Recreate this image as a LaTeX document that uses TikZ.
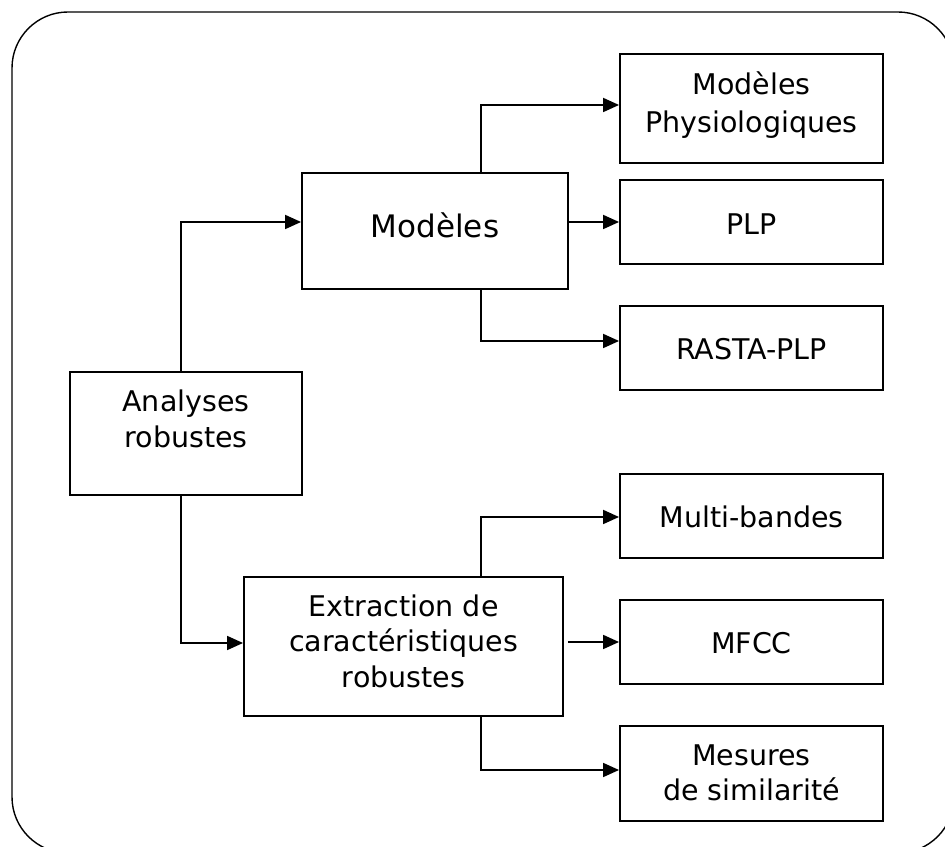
\documentclass[tikz,border=0pt]{standalone}
\usepackage{fontspec}
\setmainfont{DejaVu Sans}
\usetikzlibrary{arrows.meta}

\begin{document}
\begin{tikzpicture}[x=1pt,y=1pt,
  box/.style={draw, line width=1.9pt, inner sep=0pt, minimum height=84pt, minimum width=263pt},
  txt/.style={align=center, inner sep=0pt, font=\fontsize{28.5}{35.5}\selectfont},
  arr/.style={line width=1.8pt, -{Triangle[length=16pt,width=14pt]}}]
  \useasboundingbox (0,0) rectangle (945,846);
  \clip (0,0) rectangle (945,846);

  % frame
  \draw[line width=1.4pt, rounded corners=56pt] (12,-7) rectangle (954,834);

  % left column
  \node[box, minimum width=232pt, minimum height=123pt] (ana) at (186,412.5) {};
  \node[txt] (anat) at (186,427) {Analyses\\robustes};

  % middle column
  \node[box, minimum width=266pt, minimum height=116pt] (mod) at (435,615) {};
  \node[txt, font=\fontsize{31}{37}\selectfont] (modt) at (435,621) {Modèles};

  \node[box, minimum width=319pt, minimum height=139pt] (ext) at (403.5,199.5) {};
  \node[txt] (extt) at (403.5,205) {Extraction de\\caractéristiques\\robustes};

  % right column
  \node[box, minimum height=109pt] (mp) at (751.5,737.5) {};
  \node[txt, font=\fontsize{28.5}{38}\selectfont] (mpt) at (751.5,740.5) {Modèles\\Physiologiques};
  \node[box] (plp) at (751.5,624) {};
  \node[txt] (plpt) at (751.5,622) {PLP};
  \node[box] (rasta) at (751.5,498) {};
  \node[txt] (rastat) at (751.5,497) {RASTA-PLP};

  \node[box] (multi) at (751.5,330) {};
  \node[txt] (multit) at (751.5,329) {Multi-bandes};
  \node[box] (mfcc) at (751.5,204) {};
  \node[txt] (mfcct) at (751.5,203) {MFCC};
  \node[box, minimum height=95pt] (mes) at (751.5,72.5) {};
  \node[txt] (mest) at (751.5,73) {Mesures\\de similarité};

  % connectors
  \draw[arr] ([xshift=-5pt]ana.north) |- ([yshift=9pt]mod.west);
  \draw[arr] ([xshift=-5pt]ana.south) |- ([yshift=3.5pt]ext.west);

  \draw[arr] ([xshift=46pt]mod.north) |- ([yshift=3.5pt]mp.west);
  \draw[arr] (plp.west -| mod.east) -- (plp.west);
  \draw[arr] ([xshift=46pt]mod.south) |- ([yshift=7pt]rasta.west);

  \draw[arr] ([xshift=77.5pt]ext.north) |- ([yshift=-1pt]multi.west);
  \draw[arr] ([xshift=4pt]mfcc.west -| ext.east) -- (mfcc.west);
  \draw[arr] ([xshift=77.5pt]ext.south) |- ([yshift=3.5pt]mes.west);
\end{tikzpicture}
\end{document}
